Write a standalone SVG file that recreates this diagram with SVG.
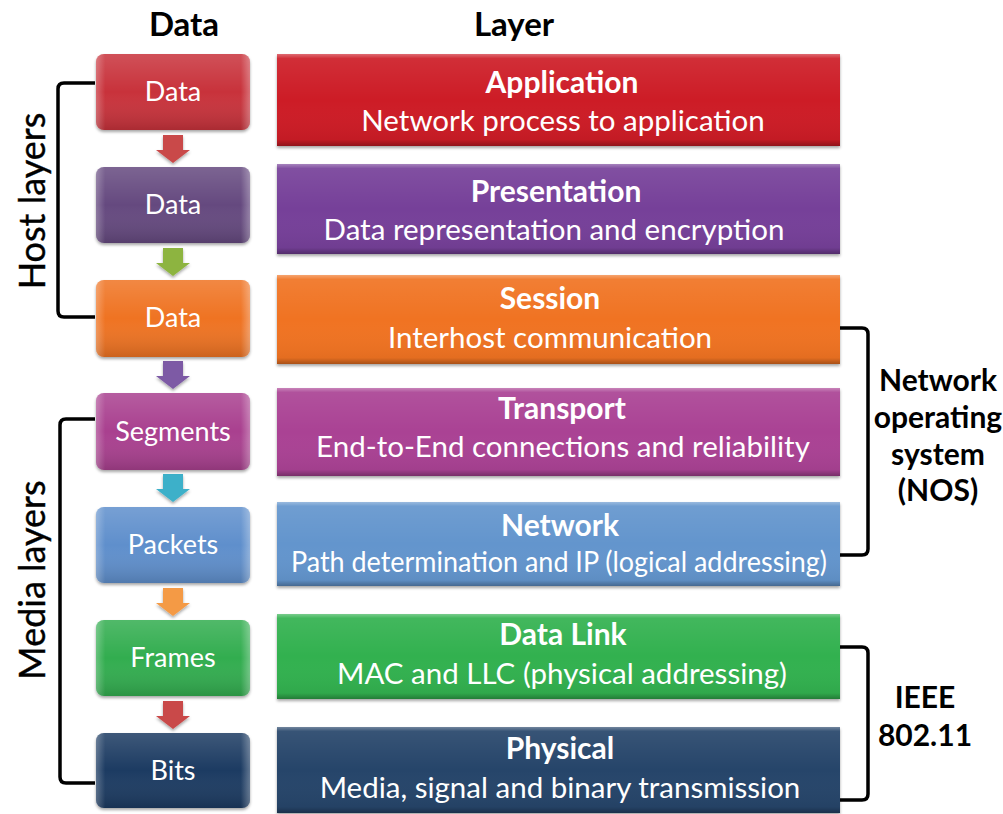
<svg xmlns="http://www.w3.org/2000/svg" width="1003" height="814" viewBox="0 0 1003 814">
<style>
.hdr{font-family:Lato,"Open Sans",sans-serif;font-weight:bold;font-size:33px;fill:#000;text-anchor:middle}
.side{font-family:Lato,"Open Sans",sans-serif;font-size:36px;fill:#000;text-anchor:middle;stroke:#000;stroke-width:0.4}
.ttl{font-family:Lato,"Open Sans",sans-serif;font-weight:bold;font-size:30px;fill:#fff;text-anchor:middle}
.sub{font-family:Lato,"Open Sans",sans-serif;font-size:29.5px;fill:#fff;text-anchor:middle}
.box{font-family:Lato,"Open Sans",sans-serif;font-size:27px;fill:#fff;text-anchor:middle}
.lbl{font-family:Lato,"Open Sans",sans-serif;font-weight:bold;font-size:30px;fill:#000;text-anchor:middle}
.br{fill:none;stroke:#000;stroke-width:3.5;stroke-linejoin:round}
</style>
<defs>
<linearGradient id="shine" x1="0" y1="0" x2="0" y2="1">
<stop offset="0" stop-color="#fff" stop-opacity="0.35"/>
<stop offset="0.05" stop-color="#fff" stop-opacity="0.08"/>
<stop offset="0.5" stop-color="#fff" stop-opacity="0"/>
<stop offset="0.93" stop-color="#000" stop-opacity="0.05"/>
<stop offset="1" stop-color="#000" stop-opacity="0.3"/>
</linearGradient>
<linearGradient id="bshine" x1="0" y1="0" x2="0" y2="1">
<stop offset="0" stop-color="#fff" stop-opacity="0.15"/>
<stop offset="0.5" stop-color="#fff" stop-opacity="0"/>
<stop offset="1" stop-color="#000" stop-opacity="0.15"/>
</linearGradient>
<linearGradient id="side" x1="0" y1="0" x2="1" y2="0">
<stop offset="0" stop-color="#fff" stop-opacity="0.25"/>
<stop offset="0.06" stop-color="#fff" stop-opacity="0"/>
<stop offset="0.94" stop-color="#fff" stop-opacity="0"/>
<stop offset="1" stop-color="#fff" stop-opacity="0.3"/>
</linearGradient>
<linearGradient id="ashade" x1="0" y1="0" x2="0" y2="1">
<stop offset="0" stop-color="#fff" stop-opacity="0.1"/>
<stop offset="1" stop-color="#000" stop-opacity="0.1"/>
</linearGradient>
<filter id="sh" x="-5%" y="-10%" width="110%" height="125%">
<feDropShadow dx="0" dy="2" stdDeviation="1.5" flood-color="#000" flood-opacity="0.35"/>
</filter>
</defs>

<text class="hdr" x="184" y="36">Data</text>
<text class="hdr" x="514" y="36">Layer</text>
<text class="side" transform="translate(45,201) rotate(-90)">Host layers</text>
<text class="side" transform="translate(45,580) rotate(-90)">Media layers</text>

<g id="connectors">
<path class="br" d="M95,83 H64 Q58,83 58,89 V311 Q58,317 64,317 H95"/>
<path class="br" d="M95,419 H66 Q60,419 60,425 V777 Q60,783 66,783 H95"/>
<path class="br" d="M840,328 H862 Q868,328 868,334 V549 Q868,555 862,555 H840"/>
<path class="br" d="M840,647 H862 Q868,647 868,653 V794 Q868,800 862,800 H840"/>
<g filter="url(#sh)">
<path fill="#c94a4a" d="M163,135 H183 V150 H190 L173,163 L156,150 H163 Z"/>
<path fill="#8db43f" d="M163,248 H183 V263 H190 L173,276 L156,263 H163 Z"/>
<path fill="#7d5aa5" d="M163,361 H183 V376 H190 L173,389 L156,376 H163 Z"/>
<path fill="#3eb0c9" d="M163,474 H183 V489 H190 L173,502 L156,489 H163 Z"/>
<path fill="#f49a45" d="M163,588 H183 V603 H190 L173,616 L156,603 H163 Z"/>
<path fill="#c94a4a" d="M163,701 H183 V716 H190 L173,729 L156,716 H163 Z"/>
</g>
</g>

<g id="data-app">
<rect x="96" y="54" width="154" height="76" rx="8" fill="#c8333a" filter="url(#sh)"/>
<rect x="96" y="54" width="154" height="76" rx="8" fill="url(#bshine)"/>
<rect x="96" y="54" width="154" height="76" rx="8" fill="url(#side)"/>
<text class="box" x="173" y="101">Data</text>
</g>
<g id="data-pres">
<rect x="96" y="167" width="154" height="76" rx="8" fill="#654a7f" filter="url(#sh)"/>
<rect x="96" y="167" width="154" height="76" rx="8" fill="url(#bshine)"/>
<rect x="96" y="167" width="154" height="76" rx="8" fill="url(#side)"/>
<text class="box" x="173" y="214">Data</text>
</g>
<g id="data-sess">
<rect x="96" y="280" width="154" height="77" rx="8" fill="#ef7323" filter="url(#sh)"/>
<rect x="96" y="280" width="154" height="77" rx="8" fill="url(#bshine)"/>
<rect x="96" y="280" width="154" height="77" rx="8" fill="url(#side)"/>
<text class="box" x="173" y="327">Data</text>
</g>
<g id="segments">
<rect x="96" y="393" width="154" height="77" rx="8" fill="#a9418f" filter="url(#sh)"/>
<rect x="96" y="393" width="154" height="77" rx="8" fill="url(#bshine)"/>
<rect x="96" y="393" width="154" height="77" rx="8" fill="url(#side)"/>
<text class="box" x="173" y="441">Segments</text>
</g>
<g id="packets">
<rect x="96" y="507" width="154" height="76" rx="8" fill="#5f8fcc" filter="url(#sh)"/>
<rect x="96" y="507" width="154" height="76" rx="8" fill="url(#bshine)"/>
<rect x="96" y="507" width="154" height="76" rx="8" fill="url(#side)"/>
<text class="box" x="173" y="554">Packets</text>
</g>
<g id="frames">
<rect x="96" y="620" width="154" height="76" rx="8" fill="#30ad4f" filter="url(#sh)"/>
<rect x="96" y="620" width="154" height="76" rx="8" fill="url(#bshine)"/>
<rect x="96" y="620" width="154" height="76" rx="8" fill="url(#side)"/>
<text class="box" x="173" y="667">Frames</text>
</g>
<g id="bits">
<rect x="96" y="733" width="154" height="75" rx="8" fill="#1b3a62" filter="url(#sh)"/>
<rect x="96" y="733" width="154" height="75" rx="8" fill="url(#bshine)"/>
<rect x="96" y="733" width="154" height="75" rx="8" fill="url(#side)"/>
<text class="box" x="173" y="780">Bits</text>
</g>

<g id="application">
<rect x="277" y="54" width="563" height="92" fill="#cd1f27" filter="url(#sh)"/>
<rect x="277" y="54" width="563" height="92" fill="url(#shine)"/>
<text class="ttl" x="562" y="93">Application</text>
<text class="sub" x="563" y="131">Network process to application</text>
</g>
<g id="presentation">
<rect x="277" y="164" width="563" height="90" fill="#764199" filter="url(#sh)"/>
<rect x="277" y="164" width="563" height="90" fill="url(#shine)"/>
<text class="ttl" x="556" y="202">Presentation</text>
<text class="sub" x="554" y="240">Data representation and encryption</text>
</g>
<g id="session">
<rect x="277" y="275" width="563" height="89" fill="#f07322" filter="url(#sh)"/>
<rect x="277" y="275" width="563" height="89" fill="url(#shine)"/>
<text class="ttl" x="550" y="309">Session</text>
<text class="sub" x="550" y="348">Interhost communication</text>
</g>
<g id="transport">
<rect x="277" y="388" width="563" height="88" fill="#aa4394" filter="url(#sh)"/>
<rect x="277" y="388" width="563" height="88" fill="url(#shine)"/>
<text class="ttl" x="562" y="419">Transport</text>
<text class="sub" x="563" y="457">End-to-End connections and reliability</text>
</g>
<g id="network">
<rect x="277" y="502" width="563" height="84" fill="#6395cd" filter="url(#sh)"/>
<rect x="277" y="502" width="563" height="84" fill="url(#shine)"/>
<text class="ttl" x="560" y="536">Network</text>
<text class="sub" x="559" y="572" textLength="536" lengthAdjust="spacingAndGlyphs">Path determination and IP (logical addressing)</text>
</g>
<g id="data-link">
<rect x="277" y="614" width="563" height="85" fill="#33b14f" filter="url(#sh)"/>
<rect x="277" y="614" width="563" height="85" fill="url(#shine)"/>
<text class="ttl" x="563" y="645">Data Link</text>
<text class="sub" x="562" y="684">MAC and LLC (physical addressing)</text>
</g>
<g id="physical">
<rect x="277" y="727" width="563" height="86" fill="#27456a" filter="url(#sh)"/>
<rect x="277" y="727" width="563" height="86" fill="url(#shine)"/>
<text class="ttl" x="560" y="759">Physical</text>
<text class="sub" x="560" y="798">Media, signal and binary transmission</text>
</g>

<g id="nos-label">
<text class="lbl" x="938" y="391">Network</text>
<text class="lbl" x="938" y="428">operating</text>
<text class="lbl" x="938" y="465">system</text>
<text class="lbl" x="938" y="501">(NOS)</text>
</g>
<g id="ieee-label">
<text class="lbl" x="925" y="708">IEEE</text>
<text class="lbl" x="925" y="746">802.11</text>
</g>
</svg>
